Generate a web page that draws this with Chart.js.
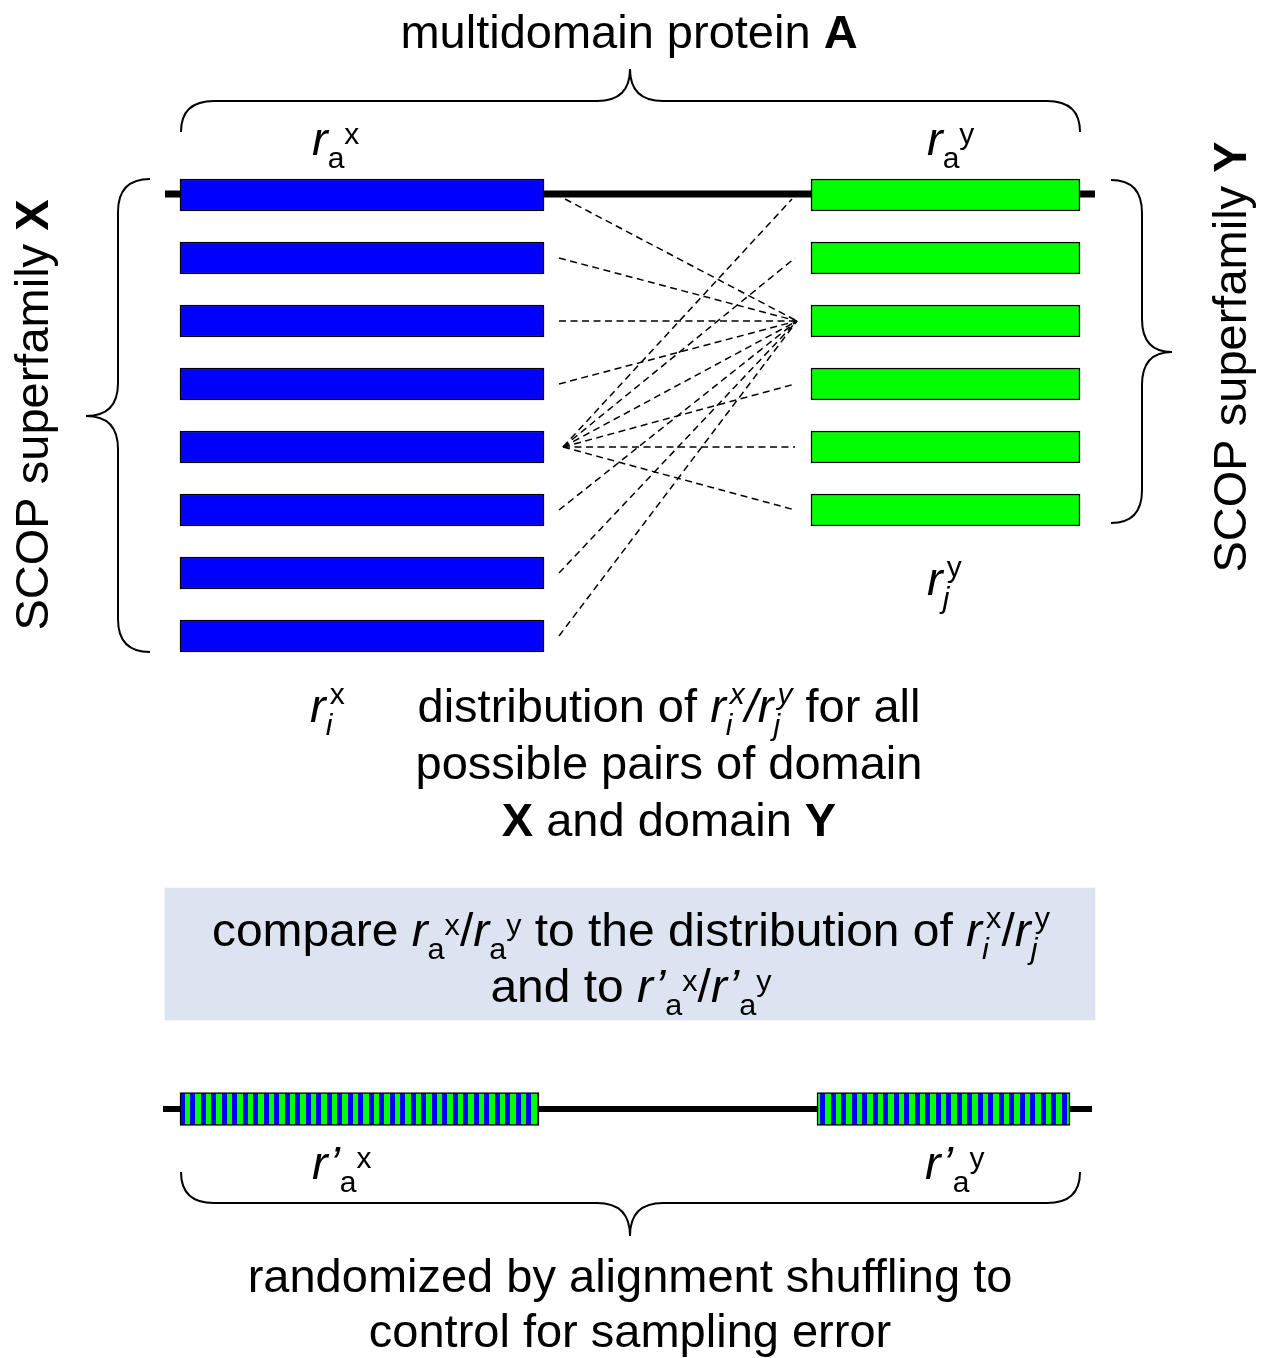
<!DOCTYPE html>
<html>
<head>
<meta charset="utf-8">
<script src="https://cdn.jsdelivr.net/npm/chart.js@4.4.0/dist/chart.umd.min.js"></script>
<style>
    html, body { margin: 0; padding: 0; background: #fff; }
    canvas { display: block; }
</style>
</head>
<body>
<canvas id="diagram" width="1262" height="1358"></canvas>
<script>
// Domain rows: superfamily X (left) and superfamily Y (right); row 0 is protein A itself
const rowsX = [0, 1, 2, 3, 4, 5, 6, 7];
const rowsY = [0, 1, 2, 3, 4, 5];

// Dashed pairs drawn as an example of "all possible pairs"
const hubX = 4;                               // X row that fans out to every Y row
const hubY = 2;                               // Y row that collects every X row
const pairsToHubY = [0, 1, 2, 3, 4, 5, 6, 7];  // X rows linked to hubY
const pairsFromHubX = [0, 1, 3, 4, 5];         // Y rows linked from hubX

// Text of the figure
const titleParts = [{ t: 'multidomain protein ' }, { t: 'A', b: 1 }];
const sideLabelX = [{ t: 'SCOP superfamily ' }, { t: 'X', b: 1 }];
const sideLabelY = [{ t: 'SCOP superfamily ' }, { t: 'Y', b: 1 }];
const distLines = [
    [{ t: 'distribution of ' }, { t: 'r', i: 1 }, { sub: 'i', sup: 'x', si: 1, pi: 1 }, { t: '/', i: 1 },
     { t: 'r', i: 1 }, { sub: 'j', sup: 'y', si: 1, pi: 1 }, { t: ' for all' }],
    [{ t: 'possible pairs of domain' }],
    [{ t: 'X', b: 1 }, { t: ' and domain ' }, { t: 'Y', b: 1 }]
];
const compareLines = [
    [{ t: 'compare ' }, { t: 'r', i: 1 }, { sub: 'a' }, { sup: 'x' }, { t: '/' }, { t: 'r', i: 1 }, { sub: 'a' }, { sup: 'y' },
     { t: ' to the distribution of ' }, { t: 'r', i: 1 }, { sub: 'i', sup: 'x', si: 1 }, { t: '/' },
     { t: 'r', i: 1 }, { sub: 'j', sup: 'y', si: 1 }],
    [{ t: 'and to ' }, { t: 'r\u2019', i: 1 }, { sub: 'a' }, { sup: 'x' }, { t: '/' }, { t: 'r\u2019', i: 1 }, { sub: 'a' }, { sup: 'y' }]
];
const shuffleLines = [
    [{ t: 'randomized by alignment shuffling to' }],
    [{ t: 'control for sampling error' }]
];
const raX = [{ t: 'r', i: 1 }, { sub: 'a' }, { sup: 'x' }];
const raY = [{ t: 'r', i: 1 }, { sub: 'a' }, { sup: 'y' }];
const riX = [{ t: 'r', i: 1 }, { sub: 'i', sup: 'x', si: 1 }];
const rjY = [{ t: 'r', i: 1 }, { sub: 'j', sup: 'y', si: 1 }];
const rpaX = [{ t: 'r\u2019', i: 1 }, { sub: 'a' }, { sup: 'x' }];
const rpaY = [{ t: 'r\u2019', i: 1 }, { sub: 'a' }, { sup: 'y' }];

// layout (diagram units = canvas pixels)
const ROW0 = 195, ROW_STEP = 63;
const rowPos = k => ROW0 + ROW_STEP * k;
const BLUE = '#0000ff', GREEN = '#00ff00';
const FAMILY = '"Liberation Sans", Arial, sans-serif';
const S = 47, SS = 30;

function fontOf(size, italic, bold) {
    return (italic ? 'italic ' : '') + (bold ? 'bold ' : '') + size + 'px ' + FAMILY;
}

function partWidth(ctx, p) {
    if (p.t !== undefined) {
        ctx.font = fontOf(S, p.i, p.b);
        return ctx.measureText(p.t).width;
    }
    let w = 0;
    if (p.sub) { ctx.font = fontOf(SS, p.si); w = Math.max(w, ctx.measureText(p.sub).width); }
    if (p.sup) { ctx.font = fontOf(SS, p.pi); w = Math.max(w, ctx.measureText(p.sup).width + (p.sub ? 4 : 0)); }
    return w;
}

function measureParts(ctx, parts) {
    return parts.reduce((w, p) => w + partWidth(ctx, p), 0);
}

function drawParts(ctx, parts) {
    let x = 0;
    parts.forEach(p => {
        if (p.t !== undefined) {
            ctx.font = fontOf(S, p.i, p.b);
            ctx.fillText(p.t, x, 0);
        } else {
            const stacked = p.sub && p.sup;
            if (p.sub) { ctx.font = fontOf(SS, p.si); ctx.fillText(p.sub, x, 13); }
            if (p.sup) { ctx.font = fontOf(SS, p.pi); ctx.fillText(p.sup, x + (stacked ? 4 : 0), stacked ? -18 : -11); }
        }
        x += partWidth(ctx, p);
    });
}

// draw a rich line; anchor is centre or left start, optional horizontal squeeze
function richText(ctx, parts, x, y, align, squeeze) {
    const k = squeeze || 1;
    const w = measureParts(ctx, parts) * k;
    const left = align === 'center' ? x - w / 2 : x;
    ctx.save();
    ctx.translate(left, y);
    ctx.scale(k, 1);
    ctx.fillStyle = '#000';
    ctx.textBaseline = 'alphabetic';
    ctx.textAlign = 'left';
    drawParts(ctx, parts);
    ctx.restore();
}

// curly braces, horizontal (tip up/down) or vertical (tip left/right)
const braces = [
    { dir: 'h', a: 181, b: 1080, end: 132, mid: 101, tip: 69, at: 630 },
    { dir: 'h', a: 181, b: 1080, end: 1172, mid: 1203, tip: 1236, at: 630 },
    { dir: 'v', a: 179, b: 652, end: 150, mid: 118, tip: 86, at: 416 },
    { dir: 'v', a: 180, b: 523, end: 1111, mid: 1142, tip: 1172, at: 352 }
];

function drawBrace(ctx, X, Y, br) {
    const r = 33;
    const P = br.dir === 'h' ? (u, v) => [X(u), Y(v)] : (u, v) => [X(v), Y(u)];
    ctx.beginPath();
    ctx.moveTo(...P(br.a, br.end));
    ctx.quadraticCurveTo(...P(br.a, br.mid), ...P(br.a + r, br.mid));
    ctx.lineTo(...P(br.at - r, br.mid));
    ctx.quadraticCurveTo(...P(br.at, br.mid), ...P(br.at, br.tip));
    ctx.quadraticCurveTo(...P(br.at, br.mid), ...P(br.at + r, br.mid));
    ctx.lineTo(...P(br.b - r, br.mid));
    ctx.quadraticCurveTo(...P(br.b, br.mid), ...P(br.b, br.end));
    ctx.stroke();
}

const figurePlugin = {
    id: 'figure',
    beforeDraw(chart) {
        const ctx = chart.ctx;
        ctx.save();
        ctx.fillStyle = '#fff';
        ctx.fillRect(0, 0, chart.width, chart.height);
        ctx.restore();
    },
    afterDatasetsDraw(chart) {
        const ctx = chart.ctx;
        const X = v => chart.scales.x.getPixelForValue(v);
        const Y = v => chart.scales.y.getPixelForValue(v);

        ctx.save();
        ctx.strokeStyle = '#000';
        ctx.lineWidth = 2;
        braces.forEach(br => drawBrace(ctx, X, Y, br));
        ctx.restore();

        richText(ctx, titleParts, X(629), Y(48), 'center');
        richText(ctx, raX, X(312), Y(155), 'left');
        richText(ctx, raY, X(927), Y(155), 'left');
        richText(ctx, rjY, X(927), Y(595), 'left');
        richText(ctx, riX, X(310), Y(722), 'left');
        distLines.forEach((ln, i) => richText(ctx, ln, X(669), Y(722 + 57 * i), 'center'));

        // compare box text is condensed in the original
        const squeeze = 838 / measureParts(ctx, compareLines[0]);
        compareLines.forEach((ln, i) => richText(ctx, ln, X(631), Y(946 + 56 * i), 'center', squeeze));

        richText(ctx, rpaX, X(312), Y(1179), 'left');
        richText(ctx, rpaY, X(925), Y(1179), 'left');
        shuffleLines.forEach((ln, i) => richText(ctx, ln, X(630), Y(1292 + 55 * i), 'center'));

        // rotated side labels
        [[sideLabelX, 48, 415], [sideLabelY, 1246, 357]].forEach(([parts, x, y]) => {
            ctx.save();
            ctx.translate(X(x), Y(y));
            ctx.rotate(-Math.PI / 2);
            richText(ctx, parts, 0, 0, 'center');
            ctx.restore();
        });
    }
};

const canvas = document.getElementById('diagram');
const ctx = canvas.getContext('2d');

// blue/green striped fill for the shuffled domains
function stripePattern() {
    const pc = document.createElement('canvas');
    pc.width = 21; pc.height = 4;
    const g = pc.getContext('2d');
    for (let px = 0; px < 21; px++) {
        const ph = (px - 12 + 21) % 21;
        g.fillStyle = (ph < 5 || (ph >= 10 && ph < 15)) ? BLUE : GREEN;
        g.fillRect(px, 0, 1, 4);
    }
    return ctx.createPattern(pc, 'repeat');
}

const linkY = k => rowPos(k) + (k === 0 ? 4 : 0);
const dashed = (x1, y1, x2, y2) => ({
    type: 'line',
    data: [{ x: x1, y: y1 }, { x: x2, y: y2 }],
    borderColor: '#000',
    borderWidth: 1.5,
    borderDash: [7, 4.5],
    pointRadius: 0,
    fill: false,
    tension: 0,
    order: 2
});

const links = [
    ...pairsToHubY.map(k => dashed(k === hubX ? 563 : (k === 0 ? 565 : 559), linkY(k), 797, rowPos(hubY))),
    ...pairsFromHubX.map(k => dashed(563, rowPos(hubX), k === 0 ? 792 : 795, linkY(k)))
];

const bar = (data, color, thickness, extra) => Object.assign({
    type: 'bar',
    indexAxis: 'y',
    data: data,
    backgroundColor: color,
    borderColor: '#000',
    borderWidth: 1.5,
    borderSkipped: false,
    barThickness: thickness,
    grouped: false,
    order: 1
}, extra || {});

new Chart(ctx, {
    type: 'scatter',
    data: {
        datasets: [
            bar([{ y: 954, x: [165, 1095] }], '#dbe4f0', 132, { borderWidth: 0, order: 9 }),
            {
                type: 'line',
                data: [{ x: 165, y: 194 }, { x: 1095, y: 194 }],
                borderColor: '#000', borderWidth: 7, pointRadius: 0, order: 5
            },
            {
                type: 'line',
                data: [{ x: 163, y: 1109 }, { x: 1092, y: 1109 }],
                borderColor: '#000', borderWidth: 6, pointRadius: 0, order: 5
            },
            ...links,
            bar(rowsX.map(k => ({ y: rowPos(k), x: [180, 544] })), BLUE, 32),
            bar(rowsY.map(k => ({ y: rowPos(k), x: [811, 1080] })), GREEN, 32),
            bar([{ y: 1109, x: [180, 539] }, { y: 1109, x: [817, 1070] }], stripePattern(), 33)
        ]
    },
    options: {
        responsive: false,
        maintainAspectRatio: false,
        animation: false,
        events: [],
        layout: { padding: 0 },
        plugins: {
            legend: { display: false },
            tooltip: { enabled: false }
        },
        scales: {
            x: { type: 'linear', min: 0, max: 1262, display: false, offset: false, grid: { offset: false } },
            y: { type: 'linear', min: 0, max: 1358, reverse: true, display: false, offset: false, grid: { offset: false } }
        }
    },
    plugins: [figurePlugin]
});
</script>
</body>
</html>
